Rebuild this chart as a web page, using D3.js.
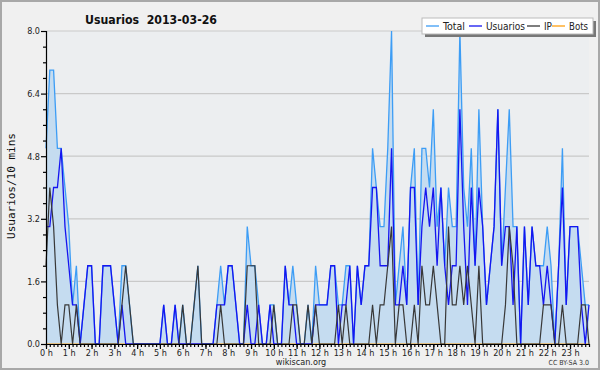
<!DOCTYPE html>
<html>
<head>
<meta charset="utf-8">
<script src="https://cdn.jsdelivr.net/npm/d3@7"></script>
<style>
  body { margin: 0; background: #f0f0f0; }
  svg { display: block; }
  .cond { font-family: "DejaVu Sans Condensed", "DejaVu Sans", sans-serif; font-stretch: condensed; }
</style>
</head>
<body>
<svg id="chart" width="600" height="370"></svg>
<script>
// values per 10 minutes, 00:00 .. 23:50
var usuarios = [
  3,3,4,4,5,3,  2,1,1,0,1,2,  2,0,0,2,2,2,  1,0,1,0,0,0,
  0,0,0,0,0,0,  0,1,0,0,1,0,  0,0,0,0,0,0,  0,0,0,1,1,1,
  2,2,1,0,0,1,  0,0,1,0,0,1,  0,0,0,2,1,1,  0,0,0,0,0,1,
  1,1,1,2,2,0,  1,1,2,0,2,1,  2,2,4,4,2,2,  2,5,1,1,2,1,
  4,4,1,3,4,3,  4,2,4,2,1,2,  2,6,3,1,4,2,  4,3,1,2,3,6,
  2,3,3,1,3,0,  3,1,3,2,2,1,  2,1,0,2,4,1,  3,3,3,1,0,1
];
var ip = [
  2,4,3,1,0,1,  1,0,1,0,0,0,  0,0,0,0,0,0,  0,0,1,2,1,0,
  0,0,0,0,0,0,  0,0,0,0,0,0,  1,0,0,1,2,0,  0,0,0,0,1,0,
  0,0,0,0,0,2,  2,2,0,0,0,0,  1,0,0,0,0,1,  1,0,0,1,0,1,
  0,0,0,0,0,1,  0,1,0,0,0,0,  0,0,1,0,1,1,  2,3,0,1,1,0,
  0,1,0,2,1,1,  2,1,0,0,3,1,  1,2,1,2,1,0,  2,0,0,0,0,0,
  0,1,3,2,0,0,  0,0,0,0,0,1,  1,1,0,0,1,0,  0,0,0,1,1,0
];
var total = [
  5,7,7,5,5,4,  3,1,2,0,1,2,  2,0,0,2,2,2,  1,0,2,2,1,0,
  0,0,0,0,0,0,  0,1,0,0,1,0,  1,0,0,1,2,0,  0,0,0,1,2,1,
  2,2,1,0,0,3,  2,2,1,0,0,1,  1,0,0,2,1,2,  1,0,0,1,0,2,
  1,1,1,2,2,1,  1,2,2,0,2,1,  2,2,5,4,3,3,  5,8,1,2,3,1,
  4,5,1,5,5,4,  6,3,4,2,4,3,  3,8,4,3,5,2,  6,3,1,2,3,6,
  2,4,6,3,3,0,  3,1,3,2,2,2,  3,2,0,2,5,1,  3,3,3,2,1,1
];
var bots = [
  0,0,0,0,0,0,  0,0,0,0,0,0,  0,0,0,0,0,0,  0,0,0,0,0,0,
  0,0,0,0,0,0,  0,0,0,0,0,0,  0,0,0,0,0,0,  0,0,0,0,0,0,
  0,0,0,0,0,0,  0,0,0,0,0,0,  0,0,0,0,0,0,  0,0,0,0,0,0,
  0,0,0,0,0,0,  0,0,0,0,0,0,  0,0,0,0,0,0,  0,0,0,0,0,0,
  0,0,0,0,0,0,  0,0,0,0,0,0,  0,0,0,0,0,0,  0,0,0,0,0,0,
  0,0,0,0,0,0,  0,0,0,0,0,0,  0,0,0,0,0,0,  0,0,0,0,0,0
];
var hourLabels = ["0 h","1 h","2 h","3 h","4 h","5 h","6 h","7 h","8 h","9 h","10 h","11 h",
                  "12 h","13 h","14 h","15 h","16 h","17 h","18 h","19 h","20 h","21 h","22 h","23 h"];
var yMajor = [0, 1.6, 3.2, 4.8, 6.4, 8.0];
var yMinor = [0.4, 0.8, 1.2, 2.0, 2.4, 2.8, 3.6, 4.0, 4.4, 5.2, 5.6, 6.0, 6.8, 7.2, 7.6];
var legendItems = [
  { name: "Total", color: "#3d9df5" },
  { name: "Usuarios", color: "#1515f0" },
  { name: "IP", color: "#383838" },
  { name: "Bots", color: "#ffa010" }
];

var svg = d3.select("#chart");
var plotL = 46, plotR = 589, plotT = 31, plotB = 344;

var x = d3.scaleLinear().domain([0, usuarios.length - 1]).range([plotL, plotR]);
var y = d3.scaleLinear().domain([0, 8]).range([plotB, plotT]);

/* frame + plot background */
svg.append("rect").attr("x", 1).attr("y", 1).attr("width", 598).attr("height", 368)
  .attr("fill", "#f0f0f0").attr("stroke", "#a8a8a8").attr("stroke-width", 2);
svg.append("rect").attr("x", plotL).attr("y", plotT).attr("width", plotR - plotL).attr("height", plotB - plotT)
  .attr("fill", "#eceef0");

/* grid */
svg.append("g").selectAll("line").data(yMajor.slice(1)).enter().append("line")
  .attr("x1", plotL).attr("x2", plotR)
  .attr("y1", function (d) { return y(d); }).attr("y2", function (d) { return y(d); })
  .attr("stroke", "#c9c9c9").attr("stroke-width", 1.2);

/* series */
var idx = d3.range(total.length);
var area = d3.area().x(function (i) { return x(i); }).y0(y(0)).y1(function (i) { return y(total[i]); });
svg.append("path").datum(idx).attr("d", area).attr("fill", "#c5dcf0");

function drawLine(values, color, width) {
  var line = d3.line().x(function (i) { return x(i); }).y(function (i) { return y(values[i]); });
  svg.append("path").datum(idx).attr("d", line)
    .attr("fill", "none").attr("stroke", color).attr("stroke-width", width);
}
drawLine(bots, legendItems[3].color, 1.2);
drawLine(total, legendItems[0].color, 1.3);
drawLine(usuarios, legendItems[1].color, 1.3);
drawLine(ip, legendItems[2].color, 1.2);

/* axes */
svg.append("g").attr("class", "cond").attr("transform", "translate(" + plotL + ",0)")
  .call(d3.axisLeft(y).tickValues(yMajor).tickSize(5).tickPadding(1).tickFormat(d3.format(".1f")));
svg.append("g").attr("transform", "translate(" + plotL + ",0)")
  .call(d3.axisLeft(y).tickValues(yMinor).tickSize(3).tickFormat(""))
  .select(".domain").remove();

svg.append("g").attr("transform", "translate(0," + plotB + ")")
  .call(d3.axisBottom(x).tickValues(idx).tickSize(3).tickSizeOuter(0).tickFormat(""));
var xAxis = svg.append("g").attr("class", "cond").attr("transform", "translate(0," + plotB + ")")
  .call(d3.axisBottom(x).tickValues(hourLabels.map(function (d, i) { return i * 6; }))
    .tickSize(5).tickPadding(1).tickFormat(function (d) { return hourLabels[d / 6]; }));
xAxis.select(".domain").remove();

svg.selectAll(".tick text").attr("font-size", 9).attr("fill", "#222")
  .attr("font-family", "'DejaVu Sans Condensed', 'DejaVu Sans', sans-serif");
svg.selectAll(".domain, .tick line").attr("stroke", "#000").attr("stroke-width", 1.2);

/* title + labels */
svg.append("text").attr("class", "cond").attr("x", 85).attr("y", 24)
  .attr("font-size", 13).attr("font-weight", "bold").attr("fill", "#111")
  .attr("textLength", 132).attr("lengthAdjust", "spacingAndGlyphs")
  .attr("xml:space", "preserve").text("Usuarios  2013-03-26");

svg.append("text").attr("transform", "translate(15,186) rotate(-90)")
  .attr("text-anchor", "middle").attr("font-family", "'DejaVu Sans Mono', monospace")
  .attr("font-size", 11).attr("fill", "#111").text("Usuarios/10 mins");

svg.append("text").attr("class", "cond").attr("x", 301).attr("y", 365)
  .attr("text-anchor", "middle").attr("font-size", 9).attr("fill", "#222").text("wikiscan.org");
svg.append("text").attr("class", "cond").attr("x", 589).attr("y", 365)
  .attr("text-anchor", "end").attr("font-size", 7).attr("fill", "#333").text("CC BY-SA 3.0");

/* legend */
var lg = svg.append("g").attr("class", "cond");
lg.append("rect").attr("x", 425).attr("y", 21).attr("width", 171).attr("height", 16).attr("fill", "#777");
lg.append("rect").attr("x", 422).attr("y", 18).attr("width", 171).attr("height", 16)
  .attr("fill", "#fff").attr("stroke", "#bbb").attr("stroke-width", 1);
var lx = [426, 469, 527, 552];
var lw = [22, 39, 8, 19];
legendItems.forEach(function (d, i) {
  lg.append("line").attr("x1", lx[i]).attr("x2", lx[i] + 13).attr("y1", 26).attr("y2", 26)
    .attr("stroke", d.color).attr("stroke-width", 1.3);
  lg.append("text").attr("x", lx[i] + 17).attr("y", 30).attr("font-size", 11).attr("fill", "#222")
    .attr("textLength", lw[i]).attr("lengthAdjust", "spacingAndGlyphs").text(d.name);
});
</script>
</body>
</html>
